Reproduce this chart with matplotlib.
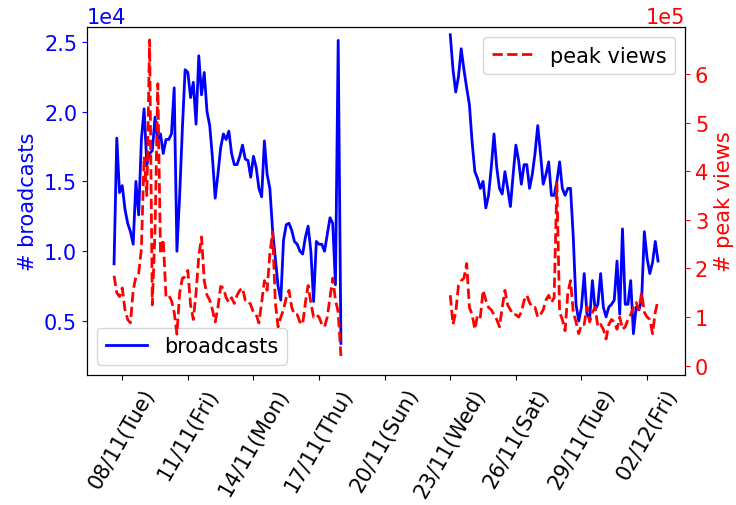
import matplotlib
matplotlib.use('Agg')
import matplotlib.pyplot as plt
import numpy as np
import pandas as pd

# first block of observations: 07/11 15:00 -> 18/11 00:00, every 3 hours
seg1_start = '2016-11-07 15:00'
broadcasts_seg1 = [
    0.91, 1.81, 1.42, 1.47, 1.30, 1.20, 1.14, 1.05, 1.50, 1.26,
    1.80, 2.02, 1.62, 1.70, 1.72, 1.96, 1.78, 1.84, 1.70, 1.80,
    1.80, 1.84, 2.17, 1.00, 1.40, 1.88, 2.30, 2.28, 2.10, 2.21,
    1.91, 2.40, 2.12, 2.28, 2.00, 1.90, 1.67, 1.38, 1.55, 1.74,
    1.84, 1.80, 1.86, 1.70, 1.62, 1.62, 1.68, 1.76, 1.66, 1.65,
    1.53, 1.68, 1.60, 1.45, 1.39, 1.79, 1.55, 1.45, 1.15, 0.95,
    0.75, 0.65, 1.08, 1.19, 1.20, 1.15, 1.07, 1.05, 1.00, 0.98,
    1.10, 1.18, 1.00, 0.64, 1.07, 1.05, 1.05, 1.00, 1.12, 1.24,
    1.20, 0.76, 2.51, 0.34,
]
peak_views_seg1 = [
    1.85, 1.50, 1.42, 1.60, 1.15, 0.95, 0.88, 1.55, 1.83, 1.90,
    2.40, 4.30, 3.50, 6.70, 1.25, 2.80, 5.80, 2.30, 2.60, 1.42,
    1.45, 1.34, 1.10, 0.65, 1.50, 1.80, 1.83, 1.96, 1.25, 0.95,
    1.50, 2.25, 2.65, 1.75, 1.45, 1.35, 1.15, 0.90, 1.20, 1.63,
    1.60, 1.40, 1.30, 1.40, 1.28, 1.45, 1.55, 1.60, 1.35, 1.35,
    1.25, 1.10, 1.05, 0.88, 1.30, 1.75, 1.55, 2.30, 2.75, 1.30,
    0.80, 1.00, 1.15, 1.40, 1.55, 1.20, 1.05, 1.05, 0.90, 0.85,
    1.30, 1.65, 1.30, 1.00, 1.05, 1.00, 0.85, 0.80, 1.00, 1.40,
    1.80, 1.35, 1.10, 0.20,
]

# second block: 23/11 00:00 -> 02/12 12:00, every 3 hours
seg2_start = '2016-11-23 00:00'
broadcasts_seg2 = [
    2.55, 2.30, 2.14, 2.25, 2.45, 2.30, 2.17, 2.05, 1.78, 1.57,
    1.52, 1.45, 1.50, 1.31, 1.40, 1.60, 1.84, 1.60, 1.45, 1.41,
    1.57, 1.45, 1.32, 1.55, 1.76, 1.65, 1.48, 1.62, 1.62, 1.45,
    1.55, 1.70, 1.90, 1.70, 1.48, 1.55, 1.64, 1.40, 1.40, 1.50,
    1.64, 1.45, 1.40, 1.45, 1.45, 1.10, 0.62, 0.50, 0.60, 0.84,
    0.55, 0.52, 0.79, 0.58, 0.62, 0.84, 0.60, 0.53, 0.60, 0.62,
    0.65, 0.93, 0.55, 1.16, 0.62, 0.62, 0.79, 0.41, 0.60, 0.58,
    0.65, 1.14, 0.95, 0.84, 0.92, 1.07, 0.93,
]
peak_views_seg2 = [
    1.45, 0.85, 1.10, 1.65, 1.75, 1.80, 2.10, 1.20, 1.05, 0.75,
    1.05, 1.00, 1.55, 1.35, 1.20, 1.15, 1.05, 0.95, 0.80, 1.20,
    1.55, 1.25, 1.15, 1.05, 1.05, 1.00, 1.10, 1.34, 1.45, 1.30,
    1.20, 1.20, 1.00, 1.05, 1.15, 1.35, 1.45, 1.30, 1.40, 3.75,
    1.10, 0.95, 0.72, 1.50, 1.75, 1.10, 0.90, 0.66, 0.85, 0.85,
    1.22, 0.90, 1.10, 1.20, 0.80, 0.85, 0.75, 0.55, 0.85, 0.95,
    0.90, 0.75, 1.00, 0.75, 0.80, 0.95, 1.05, 1.20, 1.30, 1.15,
    1.50, 1.10, 1.00, 0.95, 0.66, 1.10, 1.35,
]

tick_dates = ['2016-11-08', '2016-11-11', '2016-11-14', '2016-11-17', '2016-11-20',
              '2016-11-23', '2016-11-26', '2016-11-29', '2016-12-02']
tick_labels = ['08/11(Tue)', '11/11(Fri)', '14/11(Mon)', '17/11(Thu)', '20/11(Sun)',
               '23/11(Wed)', '26/11(Sat)', '29/11(Tue)', '02/12(Fri)']


def build_series(start1, vals1, start2, vals2, scale):
    """Join the two observation blocks with a NaN so the line breaks in the gap."""
    t1 = pd.date_range(start1, periods=len(vals1), freq='3h')
    t2 = pd.date_range(start2, periods=len(vals2), freq='3h')
    gap = t1[-1] + pd.Timedelta(hours=3)
    idx = t1.append(pd.DatetimeIndex([gap])).append(t2)
    vals = np.concatenate([vals1, [np.nan], vals2]) * scale
    return pd.Series(vals, index=idx)


broadcasts = build_series(seg1_start, broadcasts_seg1, seg2_start, broadcasts_seg2, 1e4)
peak_views = build_series(seg1_start, peak_views_seg1, seg2_start, peak_views_seg2, 1e5)

plt.rcParams['font.size'] = 15

fig, ax1 = plt.subplots(figsize=(7.36, 5.06), dpi=100)
fig.subplots_adjust(left=0.118, right=0.931, top=0.945, bottom=0.257)

ax1.plot(broadcasts.index, broadcasts.values, color='blue', lw=2, label='broadcasts')
ax1.set_ylabel('# broadcasts', color='blue')
ax1.tick_params(axis='y', colors='blue')
ax1.ticklabel_format(axis='y', style='sci', scilimits=(0, 0))
ax1.yaxis.get_offset_text().set_color('blue')
ax1.set_ylim(1140, 26070)
ax1.legend(loc='lower left')

ax2 = ax1.twinx()
ax2.plot(peak_views.index, peak_views.values, color='red', ls='--', lw=2, label='peak views')
ax2.set_ylabel('# peak views', color='red')
ax2.tick_params(axis='y', colors='red')
ax2.ticklabel_format(axis='y', style='sci', scilimits=(0, 0))
ax2.yaxis.get_offset_text().set_color('red')
ax2.set_ylim(-0.19e5, 6.97e5)
ax2.legend(loc='upper right')

ax1.set_xticks(pd.to_datetime(tick_dates))
ax1.set_xticklabels(tick_labels, rotation=60)

fig.savefig('out.png', dpi=100)
